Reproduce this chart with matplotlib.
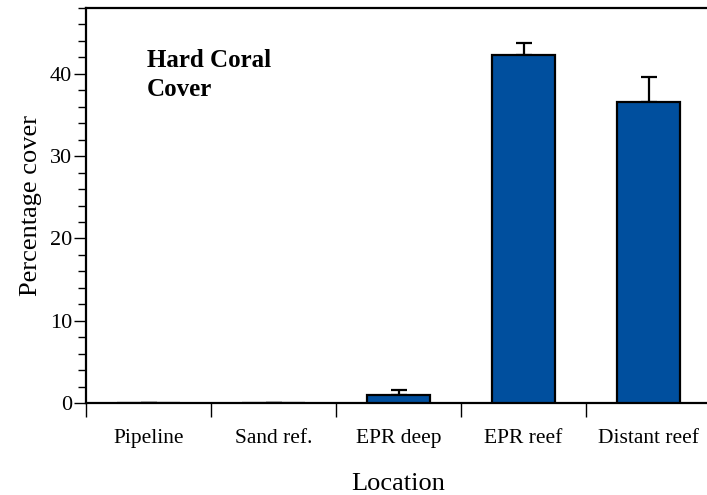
import matplotlib
matplotlib.use("Agg")
import matplotlib.pyplot as plt
from matplotlib.ticker import MultipleLocator, FixedLocator

plt.rcParams['font.family'] = ['Liberation Serif', 'DejaVu Serif']

locations = ["Pipeline", "Sand ref.", "EPR deep", "EPR reef", "Distant reef"]
cover_mean = [0.0, 0.0, 1.0, 42.25, 36.6]
cover_se = [0.0, 0.0, 0.6, 1.55, 3.0]

W, H = 707, 495
fig = plt.figure(figsize=(W / 100, H / 100), dpi=100)
left, right, bottom, top = 86, 711, 403, 8
ax = fig.add_axes([left / W, (H - bottom) / H, (right - left) / W, (bottom - top) / H])

x = list(range(len(locations)))
ax.bar(x, cover_mean, width=0.5, color="#004F9E", edgecolor="black",
       linewidth=1.6, zorder=3)
ax.errorbar(x, cover_mean, yerr=[[0] * len(cover_se), cover_se], fmt="none",
            ecolor="black", elinewidth=1.6, capsize=6, capthick=1.6, zorder=2)

ax.set_xlim(-0.5, len(locations) - 0.5)
ax.set_ylim(0, 48)

ax.spines["right"].set_visible(False)
for s in ("left", "bottom", "top"):
    ax.spines[s].set_linewidth(1.6)

ax.yaxis.set_major_locator(MultipleLocator(10))
ax.yaxis.set_minor_locator(MultipleLocator(2))
ax.tick_params(axis="y", which="major", length=9, width=1.0, labelsize=16, pad=1)
ax.tick_params(axis="y", which="minor", length=6, width=1.0)

ax.set_xticks(x)
ax.set_xticklabels(locations)
ax.xaxis.set_minor_locator(FixedLocator([i - 0.5 for i in range(len(locations))]))
ax.tick_params(axis="x", which="major", length=0, labelsize=15.5, pad=18.5)
ax.tick_params(axis="x", which="minor", length=10, width=1.0)

ax.set_ylabel("Percentage cover", fontsize=19, labelpad=6)
ax.set_xlabel("Location", fontsize=19, labelpad=18)

ax.text(0.098, 0.895, "Hard Coral\nCover", transform=ax.transAxes,
        fontsize=18, fontweight="bold", va="top", ha="left", linespacing=1.28)

fig.savefig("out.png", dpi=100)
